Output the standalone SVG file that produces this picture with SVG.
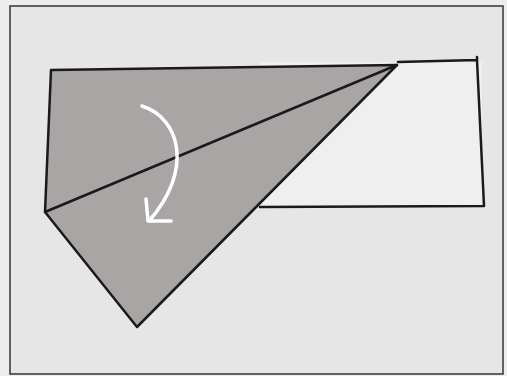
<svg xmlns="http://www.w3.org/2000/svg" width="507" height="376" viewBox="0 0 507 376">
<style>
.ln{fill:none;stroke:#1a1a1a;stroke-width:2.5;stroke-linejoin:round;stroke-linecap:round}
.arrow{fill:none;stroke:#ffffff;stroke-width:3.5;stroke-linecap:round;stroke-linejoin:round}
</style>
<rect x="0" y="0" width="507" height="376" fill="#ececec"/>
<g id="frame"><rect x="10" y="6" width="493" height="368" fill="#e6e6e6" stroke="#333" stroke-width="1.5"/></g>
<g id="rectangle">
<rect x="260" y="62" width="222" height="145" fill="#efefef" stroke="none"/>
<path class="ln" d="M398,62 L477,60 L477,57 M477,60 L484,206 L260,207"/>
</g>
<g id="flap">
<polygon points="51,70 397,65 137,327 45,212" fill="#a9a5a5" stroke="#1a1a1a" stroke-width="2.5" stroke-linejoin="round"/>
<line class="ln" x1="45" y1="212" x2="397" y2="65"/>
</g>
<g id="connectors">
<path class="arrow" d="M142,106 C180,118 194,170 149,221"/>
<path class="arrow" d="M146,199 L148,221 L171,221"/>
</g>
</svg>
